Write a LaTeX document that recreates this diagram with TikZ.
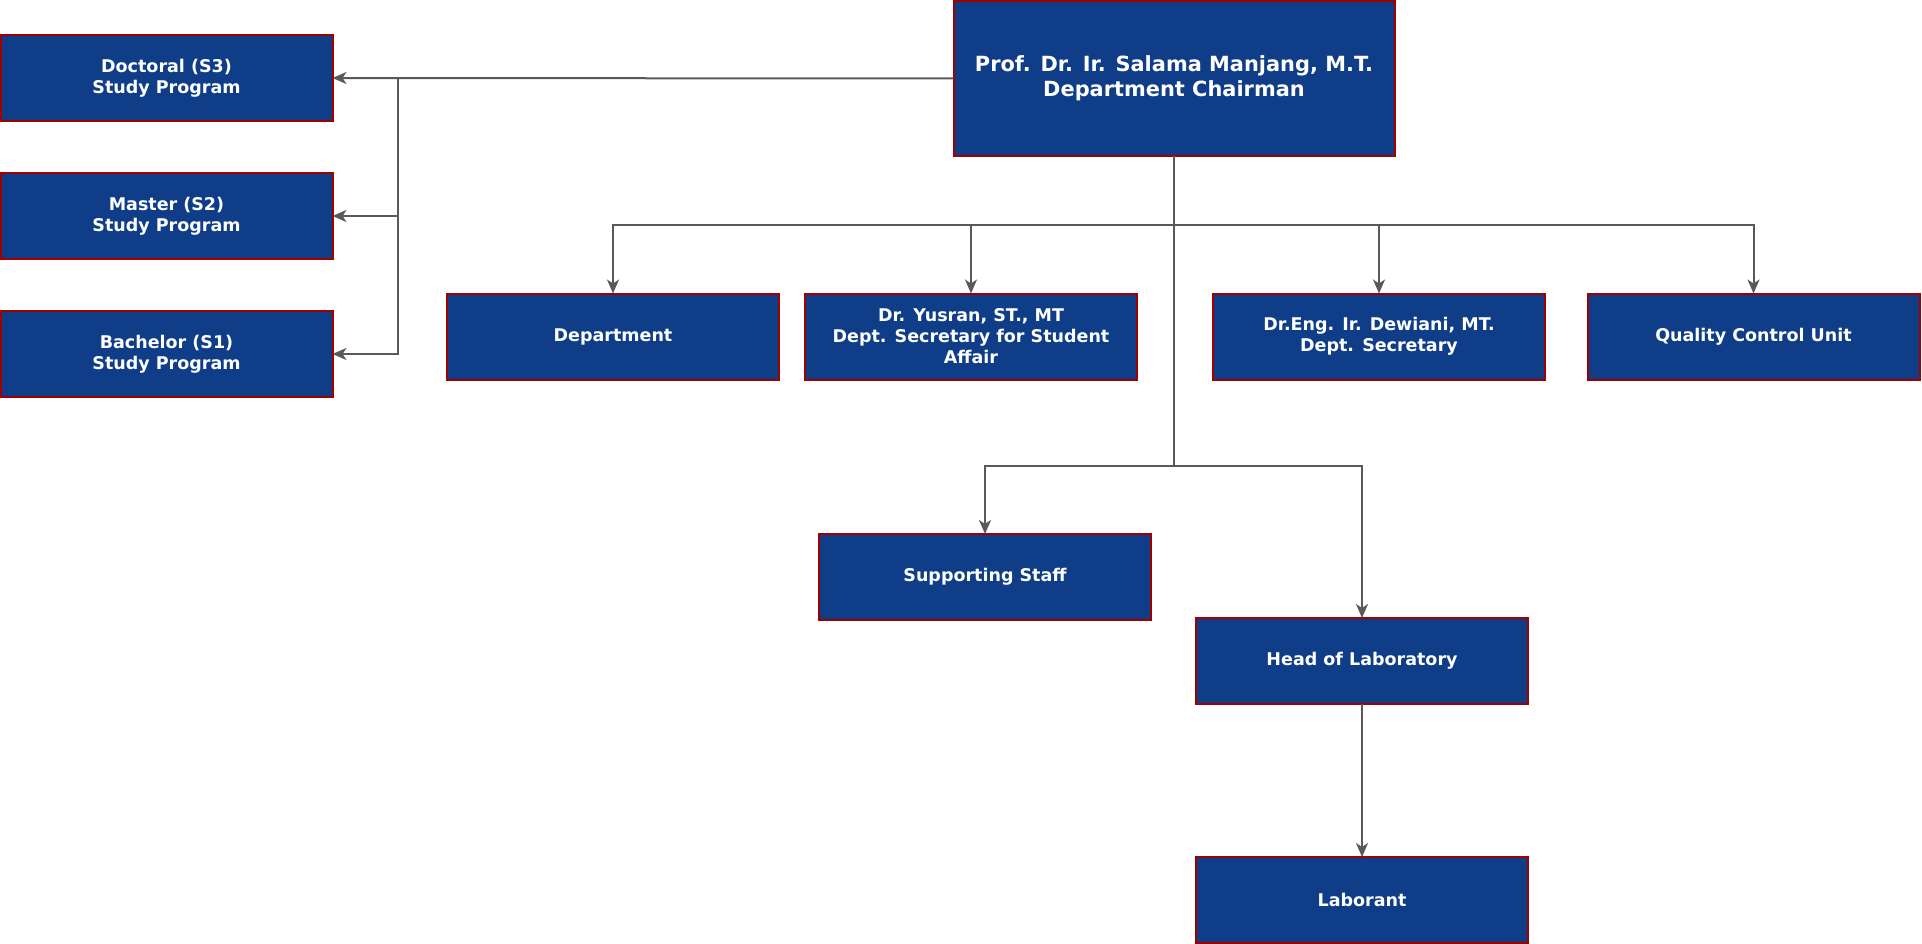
\documentclass[tikz,border=0pt]{standalone}
\usepackage{fontspec}
\setmainfont{DejaVu Sans}
\usepackage{tikz}
\usetikzlibrary{
	positioning,
	arrows.meta
}

\definecolor{boxblue}{HTML}{0F3D87}
\definecolor{boxred}{HTML}{A00000}
\definecolor{linegray}{HTML}{595959}

\tikzset{
	unit/.style={draw=boxred, fill=boxblue, line width=2pt, text=white,
		font=\bfseries\fontsize{17.5}{21}\selectfont, align=center,
		minimum width=332pt, minimum height=86pt, inner sep=0pt, outer sep=0pt},
	chief/.style={unit, minimum width=441pt, minimum height=155pt,
		font=\bfseries\fontsize{20.9}{25}\selectfont},
	link/.style={draw=linegray, line width=2pt},
	arr/.style={link, -{Stealth[length=14pt,width=12pt,inset=4pt]}}
}

\begin{document}
\begin{tikzpicture}[x=1pt,y=-1pt]
		\useasboundingbox (0,0) rectangle (1922,944);

		\node[chief] (chair) at (1174,78.5) {Prof. Dr. Ir. Salama Manjang, M.T.\\Department Chairman};

		\node[unit] (s3) at (166.5,78)  {Doctoral (S3)\\Study Program};
		\node[unit] (s2) at (166.5,216) {Master (S2)\\Study Program};
		\node[unit] (s1) at (166.5,354) {Bachelor (S1)\\Study Program};

		\node[unit] (dept)    at (613,336.5)  {Department};
		\node[unit] (student) at (971,336.5)  {Dr. Yusran, ST., MT\\Dept. Secretary for Student\\Affair};
		\node[unit] (secr)    at (1379,336.5) {Dr.Eng. Ir. Dewiani, MT.\\Dept. Secretary};
		\node[unit] (quality) at (1753.5,336.5) {Quality Control Unit};

		\node[unit] (staff) at (985,577)  {Supporting Staff};
		\node[unit] (head)  at (1362,661) {Head of Laboratory};
		\node[unit] (lab)   at (1362,900) {Laborant};

		% junctions
		\coordinate (lbus) at (398,78);
		\coordinate (tbus) at (1174,225);
		\coordinate (mbus) at (1174,466);

		% study programs
		\draw[arr] (chair.west) -- (s3.east);
		\draw[link] (lbus) -- (lbus |- s1.east);
		\draw[arr] (lbus) |- (s2.east);
		\draw[arr] (lbus) |- (s1.east);

		% secretaries and units
		\draw[link] (chair.south) -- (mbus);
		\foreach \n in {dept,student,secr,quality}
			\draw[arr] (tbus) -| (\n.north);

		% staff and laboratory
		\draw[arr] (mbus) -| (staff.north);
		\draw[arr] (mbus) -| (head.north);
		\draw[arr] (head.south) -- (lab.north);
	\end{tikzpicture}
\end{document}
